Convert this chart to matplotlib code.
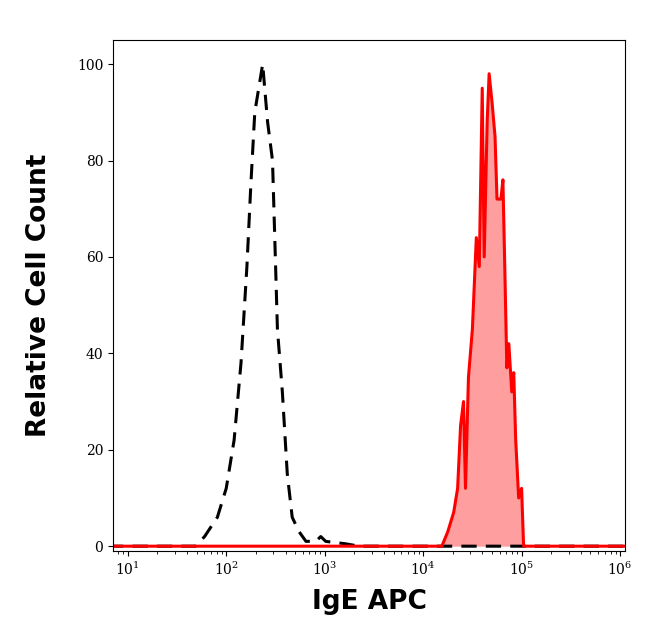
import numpy as np
import matplotlib
matplotlib.use("Agg")
import matplotlib.pyplot as plt
from matplotlib.ticker import LogLocator, NullFormatter

black_log = [0.8,1.69,1.78,1.91,2.0,2.08,2.15,2.21,2.25,2.29,2.33,2.37,2.42,2.47,2.52,2.57,2.62,2.67,2.74,2.81,2.91,2.96,3.01,3.21,3.35,6.1]
black_val = [0,0,2,6,12,22,38,58,75,90,95,100,88,80,45,32,15,6,3,1,1,2,1,0.5,0,0]
red_log = [0.8,4.19,4.25,4.31,4.35,4.38,4.41,4.43,4.46,4.50,4.54,4.57,4.60,4.62,4.65,4.67,4.70,4.73,4.75,4.79,4.81,4.83,4.85,4.87,4.90,4.92,4.94,4.97,5.00,5.02,5.07,6.1]
red_val = [0,0,3,7,12,25,30,12,35,45,64,58,95,60,88,98,92,85,72,72,76,57,37,42,32,36,22,10,12,0,0,0]
yticks = [0,20,40,60,80,100]

fig = plt.figure(figsize=(6.46,6.41), dpi=100)
ax = fig.add_axes([113/646, 1-551/641, 512/646, 511/641])
bx = 10**np.array(black_log); rx = 10**np.array(red_log)
ax.plot(bx, black_val, color="black", lw=2.2, ls=(0,(5,3)))
ax.fill_between(rx, red_val, color="#ff9e9e", lw=0)
ax.plot(rx, red_val, color="red", lw=2.2)
ax.set_xscale("log")
ax.set_xlim(10**0.85, 10**6.05)
ax.set_ylim(-1, 105)
ax.set_yticks(yticks)
ax.xaxis.set_major_locator(LogLocator(base=10, numticks=10))
ax.xaxis.set_minor_locator(LogLocator(base=10, subs=np.arange(2,10), numticks=20))
ax.xaxis.set_minor_formatter(NullFormatter())
for lab in ax.get_xticklabels()+ax.get_yticklabels():
    lab.set_fontfamily("DejaVu Serif")
ax.tick_params(labelsize=10)
ax.set_xlabel("IgE APC", fontsize=19, fontweight="bold", labelpad=8)
ax.set_ylabel("Relative Cell Count", fontsize=19, fontweight="bold", labelpad=18)
fig.savefig("out.png", dpi=100)
